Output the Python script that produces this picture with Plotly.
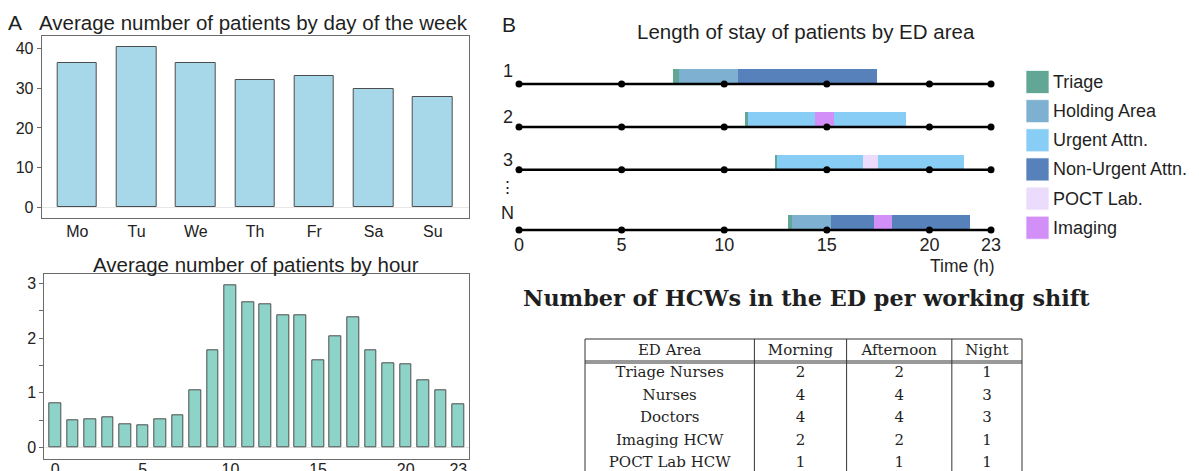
import plotly.graph_objects as go

# ---------------- data ----------------
days = ["Mo", "Tu", "We", "Th", "Fr", "Sa", "Su"]
patients_by_day = [36.5, 40.3, 36.5, 32.1, 33.1, 29.8, 27.8]

hours = list(range(24))
patients_by_hour = [0.81, 0.49, 0.52, 0.56, 0.43, 0.40, 0.52, 0.59, 1.04, 1.78,
                    2.96, 2.66, 2.63, 2.42, 2.42, 1.59, 2.04, 2.39, 1.78, 1.55,
                    1.53, 1.23, 1.04, 0.79]
hour_ticks = [0, 5, 10, 15, 20, 23]

# length of stay: one list of (area, start hour, end hour) per patient
patient_labels = ["1", "2", "3", "N"]
stays = [
    [("Triage", 7.5, 7.78), ("Holding Area", 7.78, 10.65), ("Non-Urgent Attn.", 10.65, 17.45)],
    [("Triage", 11.0, 11.18), ("Urgent Attn.", 11.18, 14.42), ("Imaging", 14.42, 15.36),
     ("Urgent Attn.", 15.36, 18.86)],
    [("Triage", 12.45, 12.58), ("Urgent Attn.", 12.58, 16.75), ("POCT Lab.", 16.75, 17.51),
     ("Urgent Attn.", 17.51, 21.66)],
    [("Triage", 13.1, 13.29), ("Holding Area", 13.29, 15.18), ("Non-Urgent Attn.", 15.18, 17.28),
     ("Imaging", 17.28, 18.17), ("Non-Urgent Attn.", 18.17, 21.97)],
]
areas = ["Triage", "Holding Area", "Urgent Attn.", "Non-Urgent Attn.", "POCT Lab.", "Imaging"]
area_colors = ["#62a796", "#7eb1d1", "#87cdf5", "#5681bb", "#ebdcfb", "#d28ff8"]

table_header = ["ED Area", "Morning", "Afternoon", "Night"]
table_areas = ["Triage Nurses", "Nurses", "Doctors", "Imaging HCW", "POCT Lab HCW"]
hcw_morning = [2, 4, 4, 2, 1]
hcw_afternoon = [2, 4, 4, 2, 1]
hcw_night = [1, 3, 3, 1, 1]

# ---------------- geometry helpers ----------------
W, H = 1199, 471


def px(x):
    return x / W


def py(y):
    return 1 - y / H


SANS = "Liberation Sans, Arial, sans-serif"
SERIF = "DejaVu Serif, serif"
TXT = "#1f1f1f"
FRAME = "#6b6b6b"

fig = go.Figure()

# ---------------- A: patients by day ----------------
fig.add_trace(go.Bar(
    x=days, y=patients_by_day, width=0.67,
    marker=dict(color="#a6d8ea", line=dict(color="#4d4d4d", width=1)),
    xaxis="x", yaxis="y", showlegend=False, hoverinfo="x+y"))

# ---------------- A: patients by hour ----------------
fig.add_trace(go.Bar(
    x=hours, y=patients_by_hour, width=0.67,
    marker=dict(color="#8dd3c7", line=dict(color="#4d4d4d", width=1)),
    xaxis="x2", yaxis="y2", showlegend=False, hoverinfo="x+y"))

# ---------------- B: length of stay ----------------
row_pos = [0, 1, 2, 3.4]
bar_thick = 0.34
for area, color in zip(areas, area_colors):
    ys, bases, lens = [], [], []
    for r, segs in zip(row_pos, stays):
        for a, s, e in segs:
            if a == area:
                ys.append(r - bar_thick / 2)
                bases.append(s)
                lens.append(e - s)
    if ys:
        fig.add_trace(go.Bar(
            orientation="h", y=ys, x=lens, base=bases, width=bar_thick,
            marker=dict(color=color, line=dict(width=0)),
            xaxis="x3", yaxis="y3", showlegend=False, name=area))

for r in row_pos:
    fig.add_trace(go.Scatter(
        x=hour_ticks, y=[r] * len(hour_ticks), mode="lines+markers",
        line=dict(color="black", width=2.5),
        marker=dict(color="black", size=7),
        cliponaxis=False, xaxis="x3", yaxis="y3", showlegend=False, hoverinfo="skip"))

# legend swatches
fig.add_trace(go.Scatter(
    x=[0] * len(areas), y=list(range(len(areas))), mode="markers",
    marker=dict(symbol="square", size=23, color=area_colors,
                line=dict(color="rgba(255,255,255,0.7)", width=1)),
    cliponaxis=False, xaxis="x4", yaxis="y4", showlegend=False, hoverinfo="skip"))

# ---------------- table ----------------
col_widths = [169, 92, 105, 70]
tbl_left, tbl_right, tbl_top = 585, 1022, 339
head_h, row_h = 22, 22.5
fig.add_trace(go.Table(
    domain=dict(x=[px(tbl_left), px(tbl_right)], y=[0, py(tbl_top - 3)]),
    columnwidth=col_widths,
    header=dict(values=table_header, height=head_h, align="center",
                fill_color="rgba(0,0,0,0)", line=dict(color="rgba(0,0,0,0)", width=0),
                font=dict(family=SERIF, size=15, color=TXT)),
    cells=dict(values=[table_areas, hcw_morning, hcw_afternoon, hcw_night],
               height=row_h, align="center",
               fill_color="rgba(0,0,0,0)", line=dict(color="rgba(0,0,0,0)", width=0),
               font=dict(family=SERIF, size=15, color=TXT))))

shapes = []
# table rules derived from the column widths
scale = (tbl_right - tbl_left) / sum(col_widths)
edges = [tbl_left]
for w in col_widths:
    edges.append(edges[-1] + w * scale)
for xe in edges:
    shapes.append(dict(type="line", xref="paper", yref="paper",
                       x0=px(xe), x1=px(xe), y0=0, y1=py(tbl_top),
                       line=dict(color="#333", width=1)))
shapes.append(dict(type="line", xref="paper", yref="paper",
                   x0=px(tbl_left), x1=px(tbl_right), y0=py(tbl_top), y1=py(tbl_top),
                   line=dict(color="#333", width=1.2)))
for off in (0, 2):
    yy = tbl_top + head_h + off
    shapes.append(dict(type="line", xref="paper", yref="paper",
                       x0=px(tbl_left), x1=px(tbl_right), y0=py(yy), y1=py(yy),
                       line=dict(color="#333", width=1)))

# ---------------- annotations ----------------
ann = []


def text(s, x, y, size, xanchor="center", family=SANS, color=TXT, bold=False):
    ann.append(dict(text=f"<b>{s}</b>" if bold else s, x=px(x), y=py(y),
                    xref="paper", yref="paper", xanchor=xanchor, yanchor="middle",
                    showarrow=False, font=dict(family=family, size=size, color=color)))


text("A", 6, 23, 21, xanchor="left")
text("Average number of patients by day of the week", 254, 23, 20.5)
text("Average number of patients by hour", 256, 264, 20.5)
text("B", 500, 25, 21, xanchor="left")
text("Length of stay of patients by ED area", 806, 32, 20.5)
for lab, yy in zip(patient_labels, [71, 117, 160, 213]):
    text(lab, 508, yy, 18)
text("⋮", 508, 187, 17)
text("Time (h)", 962, 266, 17.5)
text("Number of HCWs in the ED per working shift", 806, 298, 22.3, family=SERIF, bold=True)
for i, a in enumerate(areas):
    ann.append(dict(text=a, x=0.6, y=i, xref="x4", yref="y4", xanchor="left",
                    yanchor="middle", showarrow=False,
                    font=dict(family=SANS, size=18, color=TXT)))

fig.update_layout(
    width=W, height=H, margin=dict(l=0, r=0, t=0, b=0, autoexpand=False),
    paper_bgcolor="white", plot_bgcolor="white",
    barmode="overlay", bargap=0, showlegend=False,
    font=dict(family=SANS, color=TXT),
    shapes=shapes, annotations=ann,
    # A top
    xaxis=dict(domain=[px(41.7), px(469)], anchor="y", range=[-0.6, 6.61],
               automargin=False, ticklabelstandoff=-2,
               showline=True, mirror=True, linecolor=FRAME, linewidth=1,
               ticks="", showgrid=False, tickfont=dict(size=16, color="#222")),
    yaxis=dict(domain=[py(218.3), py(36)], anchor="x", range=[-2.8, 43.2],
               automargin=False,
               dtick=10, showline=True, mirror=True, linecolor=FRAME, linewidth=1,
               ticks="outside", ticklen=4, tickcolor=FRAME, showgrid=False,
               zeroline=True, zerolinecolor="#e6e6e6", zerolinewidth=1,
               tickfont=dict(size=16, color="#222")),
    # A bottom
    xaxis2=dict(domain=[px(44.3), px(469)], anchor="y2", range=[-0.62, 23.61],
                automargin=False, ticklabelstandoff=-4,
                tickvals=hour_ticks, showline=True, mirror=True, linecolor=FRAME,
                linewidth=1, ticks="", showgrid=False, zeroline=False,
                tickfont=dict(size=16, color="#222")),
    yaxis2=dict(domain=[py(459), py(274.3)], anchor="x2", range=[-0.21, 3.17],
                automargin=False,
                dtick=1, showline=True, mirror=True, linecolor=FRAME, linewidth=1,
                ticks="outside", ticklen=4, tickcolor=FRAME, showgrid=False,
                minor=dict(dtick=0.5, ticks="outside", ticklen=4, tickcolor=FRAME),
                zeroline=True, zerolinecolor="#e6e6e6", zerolinewidth=1,
                tickfont=dict(size=16, color="#222")),
    # B length of stay
    xaxis3=dict(domain=[px(519), px(991)], anchor="free", position=py(232),
                automargin=False,
                range=[0, 23], tickvals=hour_ticks, showline=False, ticks="",
                showgrid=False, zeroline=False, tickfont=dict(size=18, color="#222")),
    yaxis3=dict(domain=[py(245), py(58.2)], anchor="x3", range=[3.75, -0.6],
                automargin=False, visible=False, showgrid=False, zeroline=False),
    # B legend swatches
    xaxis4=dict(domain=[px(1026), 1.0], anchor="y4", range=[-0.5, 7.02],
                automargin=False, visible=False),
    yaxis4=dict(domain=[py(250), py(60)], anchor="x4", range=[5.765, -0.755],
                automargin=False, visible=False),
)

fig.write_html("out.html")
